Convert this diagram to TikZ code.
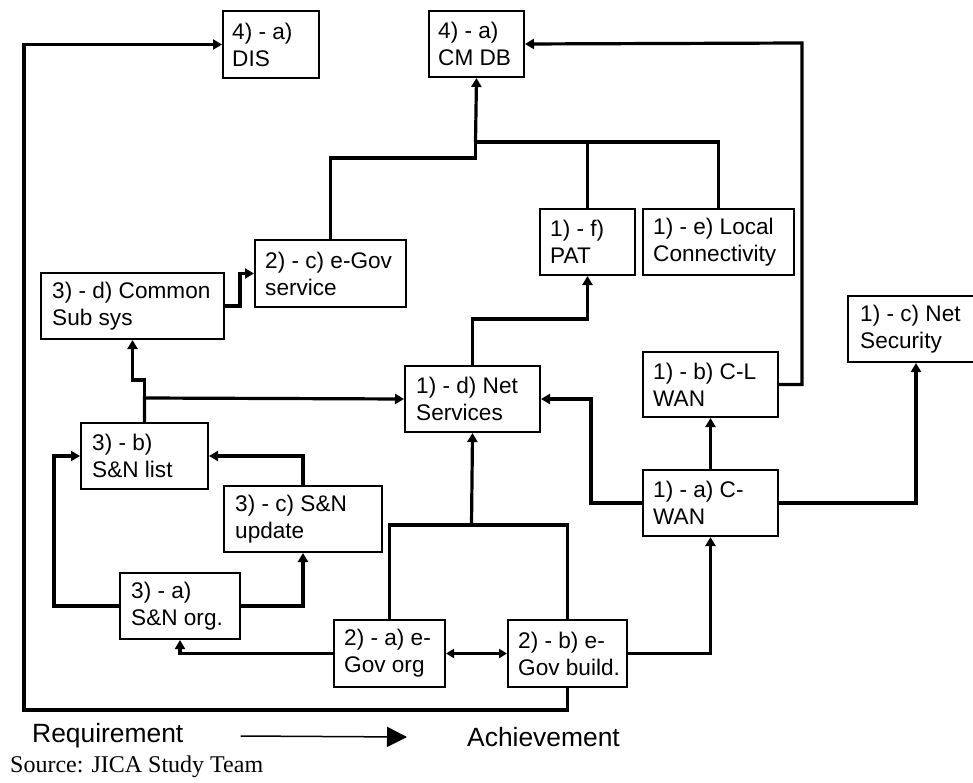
\documentclass[tikz,border=0pt]{standalone}
\usepackage{fontspec}
\setmainfont{Liberation Sans}
\newfontfamily\sourcefont{Liberation Serif}
\usetikzlibrary{arrows.meta}

\begin{document}
\begin{tikzpicture}[x=1pt,y=-1pt,
  box/.style 2 args={draw, line width=2pt, anchor=north west, inner sep=0pt,
    minimum width=#1pt, minimum height=#2pt},
  lbl/.style={anchor=west, inner sep=0pt, align=left,
    font=\fontsize{22.6}{27}\selectfont},
  link/.style={line width=3.2pt},
  arr/.style={link, -{Triangle[length=9pt,width=10pt]}},
  dbl/.style={line width=2.2pt, {Triangle[length=8pt,width=9pt]}-{Triangle[length=8pt,width=9pt]}},
  legend/.style={anchor=west, inner sep=0pt, font=\fontsize{26.4}{31}\selectfont},
  legarrow/.style={line width=1.5pt, -{Triangle[length=20pt,width=20pt]}},
]
\useasboundingbox (0,0) rectangle (973,783);

% blocks
\node[box={96}{67}]  (dis)  at (222,10)  {};
\node[box={95}{66}]  (cmdb) at (428,10)  {};
\node[box={95}{66}]  (pat)  at (539,208) {};
\node[box={151}{66}] (loc)  at (642,208) {};
\node[box={151}{67}] (egs)  at (254,239) {};
\node[box={183}{66}] (css)  at (40,272)  {};
\node[box={135}{66}] (nets) at (404,365) {};
\node[box={135}{65}] (clw)  at (642,351) {};
\node[box={136}{66}] (nsec) at (847,295) {};
\node[box={135}{66}] (cwan) at (642,469) {};
\node[box={127}{66}] (snl)  at (80,422)  {};
\node[box={158}{66}] (snu)  at (223,485) {};
\node[box={120}{66}] (sno)  at (119,572) {};
\node[box={111}{67}] (ego)  at (333,619) {};
\node[box={119}{67}] (egb)  at (507,619) {};

% block captions
\node[lbl] (dis-t)  at ([xshift=10pt]dis.west)  {4) - a)\\DIS};
\node[lbl] (cmdb-t) at ([xshift=10pt]cmdb.west) {4) - a)\\CM DB};
\node[lbl] (pat-t)  at ([xshift=11pt]pat.west)  {1) - f)\\PAT};
\node[lbl] (loc-t)  at ([xshift=11pt]loc.west)  {1) - e) Local\\Connectivity};
\node[lbl] (egs-t)  at ([xshift=11pt]egs.west)  {2) - c) e-Gov\\service};
\node[lbl] (css-t)  at ([xshift=12pt]css.west)  {3) - d) Common\\Sub sys};
\node[lbl] (nets-t) at ([xshift=12pt]nets.west) {1) - d) Net\\Services};
\node[lbl] (clw-t)  at ([xshift=11pt]clw.west)  {1) - b) C-L\\WAN};
\node[lbl] (nsec-t) at ([xshift=13pt]nsec.west) {1) - c) Net\\Security};
\node[lbl] (cwan-t) at ([xshift=11pt]cwan.west) {1) - a) C-\\WAN};
\node[lbl] (snl-t)  at ([xshift=12pt]snl.west)  {3) - b)\\S\&N list};
\node[lbl] (snu-t)  at ([xshift=12pt]snu.west)  {3) - c) S\&N\\update};
\node[lbl] (sno-t)  at ([xshift=12pt]sno.west)  {3) - a)\\S\&N org.};
\node[lbl] (ego-t)  at ([xshift=11pt]ego.west)  {2) - a) e-\\Gov org};
\node[lbl] (egb-t)  at ([xshift=11pt]egb.west)  {2) - b) e-\\Gov build.};

% junction points
\coordinate (hub)   at (475.5,142);
\coordinate (hubL)  at (475.5,158);
\coordinate (merge) at (471.5,525);
\coordinate (loopBL) at (24,710);
\coordinate (rtop)  at (802,43);

% into the CM DB
\draw[arr]  (hub) -- (cmdb.south);
\draw[link] (pat.north) |- (hub);
\draw[link] (loc.north) |- (hub);
\draw[link] (egs.north) |- (hubL) -- (hub);
\draw[arr]  (clw.east) -| (rtop) -- (cmdb.east);

% outer loop to the DIS
\draw[arr] (egb.south) |- (loopBL) |- (dis.west);

% network side
\draw[arr] (nets.north) -- ++(0,-46) -| (pat.south);
\draw[arr] (cwan.north) -- (clw.south);
\draw[arr] (cwan.east) -| (nsec.south);
\draw[arr] (cwan.west) -- ++(-51,0) |- (nets.east);
\draw[arr] (egb.east) -| (cwan.south);

% e-Gov blocks
\draw[dbl]  (ego.east) -- (egb.west);
\draw[link] (ego.north) |- (merge) -| (egb.north);
\draw[arr]  (merge) -- (nets.south);
\draw[arr]  (ego.west) -| (sno.south);

% S&N and common subsystem
\draw[arr] (sno.west) -- ++(-65,0) |- (snl.west);
\draw[arr] (sno.east) -| (snu.south);
\draw[arr] (snu.north) |- (snl.east);
\draw[arr] (snl.north) -- ++(0,-24) -- (nets.west);
\draw[arr] (snl.north) -- ++(0,-42) -| (css.south);
\draw[arr] (css.east) -- ++(15,0) |- (egs.west);

% legend
\node[legend] (req) at (32,736) {Requirement};
\node[legend] (ach) at (467,737) {Achievement};
\draw[legarrow] ([xshift=57pt]req.east) -- ([xshift=-60pt]ach.west);
\node[anchor=west, inner sep=0pt, font=\sourcefont\fontsize{24}{29}\selectfont] (src) at (10,767) {Source: JICA Study Team};
\end{tikzpicture}
\end{document}
